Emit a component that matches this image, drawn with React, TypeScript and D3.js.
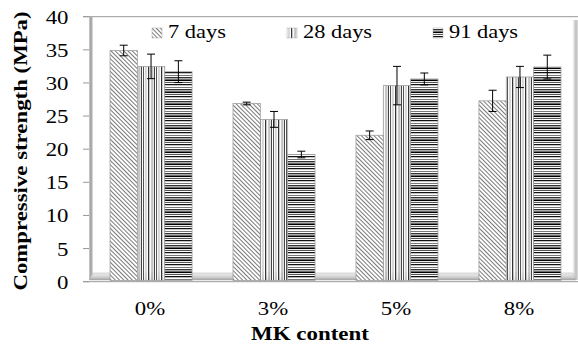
import React from "react";
import * as d3 from "d3";

const categories = ["0%", "3%", "5%", "8%"];
const seriesNames = ["7 days", "28 days", "91 days"];
const values7 = [34.9, 26.9, 22.1, 27.3];
const values28 = [32.5, 24.5, 29.6, 30.9];
const values91 = [31.7, 19.2, 30.6, 32.4];
const err7 = [0.8, 0.2, 0.65, 1.6];
const err28 = [1.85, 1.2, 2.9, 1.6];
const err91 = [1.65, 0.5, 0.9, 1.8];
const yTicks = [0, 5, 10, 15, 20, 25, 30, 35, 40];

const W = 578;
const H = 345;
const FONT = "'Liberation Serif', 'Times New Roman', serif";
const SX = 1.2;

export default function App() {
  const y = d3.scaleLinear().domain([0, 40]).range([281.7, 16.7]);
  const x = d3.scaleBand<string>().domain(categories).range([89.5, 581.5]).paddingInner(0.333).paddingOuter(0.167);
  const xs = d3.scaleBand<string>().domain(seriesNames).range([0, x.bandwidth()]).padding(0);
  const allVals = [values7, values28, values91];
  const allErr = [err7, err28, err91];
  const fills = ["url(#pDiag)", "url(#pVert)", "url(#pHorz)"];

  const vStripes = [
    [0, 1.2, "#555"], [1.2, 2.6, "#fff"], [2.6, 3.6, "#999"], [3.6, 5, "#fff"], [5, 6.3, "#333"],
    [6.3, 7.3, "#ccc"], [7.3, 8.6, "#fff"], [8.6, 9.6, "#777"], [9.6, 11, "#e4e4e4"], [11, 12, "#444"], [12, 13, "#fff"],
  ] as [number, number, string][];
  const hStripes = [
    [0, 1.5, "#111"], [1.5, 3, "#fff"], [3, 4, "#777"], [4, 5, "#fff"], [5, 6.5, "#333"],
    [6.5, 7.5, "#bbb"], [7.5, 9, "#000"], [9, 10, "#eee"], [10, 11, "#555"], [11, 12, "#fff"],
  ] as [number, number, string][];

  const legendX = [152, 287, 433];

  return (
    <svg width={W} height={H} style={{ position: "absolute", left: 0, top: 0, background: "#fff" }}>
      <defs>
        <pattern id="pDiag" patternUnits="userSpaceOnUse" width={3} height={3} patternTransform="rotate(-45)">
          <rect width={3} height={3} fill="#fff" />
          <rect x={0} y={0} width={0.9} height={3} fill="#6a6a6a" />
        </pattern>
        <pattern id="pVert" patternUnits="userSpaceOnUse" width={13} height={10}>
          {vStripes.map(([a, b, c], i) => (
            <rect key={i} x={a} y={0} width={b - a} height={10} fill={c} />
          ))}
        </pattern>
        <pattern id="pHorz" patternUnits="userSpaceOnUse" width={10} height={12}>
          {hStripes.map(([a, b, c], i) => (
            <rect key={i} x={0} y={a} width={10} height={b - a} fill={c} />
          ))}
        </pattern>
        <linearGradient id="gWall" x1="0" x2="1" y1="0" y2="0">
          <stop offset="0" stopColor="#d0d0d0" />
          <stop offset="0.5" stopColor="#9a9a9a" />
          <stop offset="1" stopColor="#e8e8e8" />
        </linearGradient>
        <linearGradient id="gFloor" x1="0" x2="0" y1="0" y2="1">
          <stop offset="0" stopColor="#eeeeee" />
          <stop offset="0.6" stopColor="#cfcfcf" />
          <stop offset="1" stopColor="#a0a0a0" />
        </linearGradient>
        <linearGradient id="gRight" x1="0" x2="1" y1="0" y2="0">
          <stop offset="0" stopColor="#f2f2f2" />
          <stop offset="0.6" stopColor="#bdbdbd" />
          <stop offset="1" stopColor="#e0e0e0" />
        </linearGradient>
      </defs>

      {/* frame */}
      <line x1={83} x2={578} y1={16.7} y2={16.7} stroke="#999" strokeWidth={1} />
      <rect x={89} y={17} width={4} height={262} fill="url(#gWall)" />
      <rect x={573} y={20} width={5} height={260} fill="url(#gRight)" />
      <path d="M93,273 L573,273 L576,280 L89,280 Z" fill="url(#gFloor)" stroke="#b0b0b0" strokeWidth={0.5} />
      <line x1={83} x2={578} y1={281.7} y2={281.7} stroke="#999" strokeWidth={1} />
      {yTicks.map((t) => (
        <line key={t} x1={83} x2={89} y1={y(t)} y2={y(t)} stroke="#999" strokeWidth={1} />
      ))}

      {/* bars */}
      {categories.map((c, ci) => (
        <g key={c}>
          {seriesNames.map((s, si) => {
            const v = allVals[si][ci];
            const bx = (x(c) as number) + (xs(s) as number);
            const bw = xs.bandwidth();
            return (
              <rect key={s} x={bx} y={y(v)} width={bw} height={280.5 - y(v)} fill={fills[si]} stroke="#a0a0a0" strokeWidth={0.8} />
            );
          })}
        </g>
      ))}

      {/* error bars */}
      {categories.map((c, ci) => (
        <g key={"e" + c}>
          {seriesNames.map((s, si) => {
            const v = allVals[si][ci];
            const e = allErr[si][ci];
            const cx = (x(c) as number) + (xs(s) as number) + xs.bandwidth() / 2;
            return (
              <g key={s} stroke="#000" strokeWidth={1}>
                <line x1={cx} x2={cx} y1={y(v + e)} y2={y(v - e)} />
                <line x1={cx - 4} x2={cx + 4} y1={y(v + e)} y2={y(v + e)} />
                <line x1={cx - 4} x2={cx + 4} y1={y(v - e)} y2={y(v - e)} />
              </g>
            );
          })}
        </g>
      ))}

      {/* y tick labels */}
      {yTicks.map((t) => (
        <text key={t} transform={`translate(68.5,${y(t) + 7}) scale(${SX},1)`} textAnchor="end" fontFamily={FONT} fontSize={19} fill="#000">
          {t}
        </text>
      ))}

      {/* x labels */}
      {categories.map((c) => (
        <text key={c} transform={`translate(${(x(c) as number) + x.bandwidth() / 2 - 1},315) scale(${SX},1)`} textAnchor="middle" fontFamily={FONT} fontSize={19} fill="#000">
          {c}
        </text>
      ))}

      <text transform={`translate(310,340) scale(1.24,1)`} textAnchor="middle" fontFamily={FONT} fontSize={18.5} fontWeight="bold" fill="#000">
        MK content
      </text>
      <text transform={`translate(27,151) rotate(-90) scale(1.17,1)`} textAnchor="middle" fontFamily={FONT} fontSize={19.5} fontWeight="bold" fill="#000">
        Compressive strength (MPa)
      </text>

      {/* legend */}
      {seriesNames.map((s, si) => (
        <g key={s}>
          <rect x={legendX[si]} y={28} width={10} height={10} fill={fills[si]} stroke="#aaa" strokeWidth={0.5} />
          <text transform={`translate(${legendX[si] + 16},38) scale(1.18,1)`} fontFamily={FONT} fontSize={19} fill="#000">
            {s}
          </text>
        </g>
      ))}
    </svg>
  );
}
